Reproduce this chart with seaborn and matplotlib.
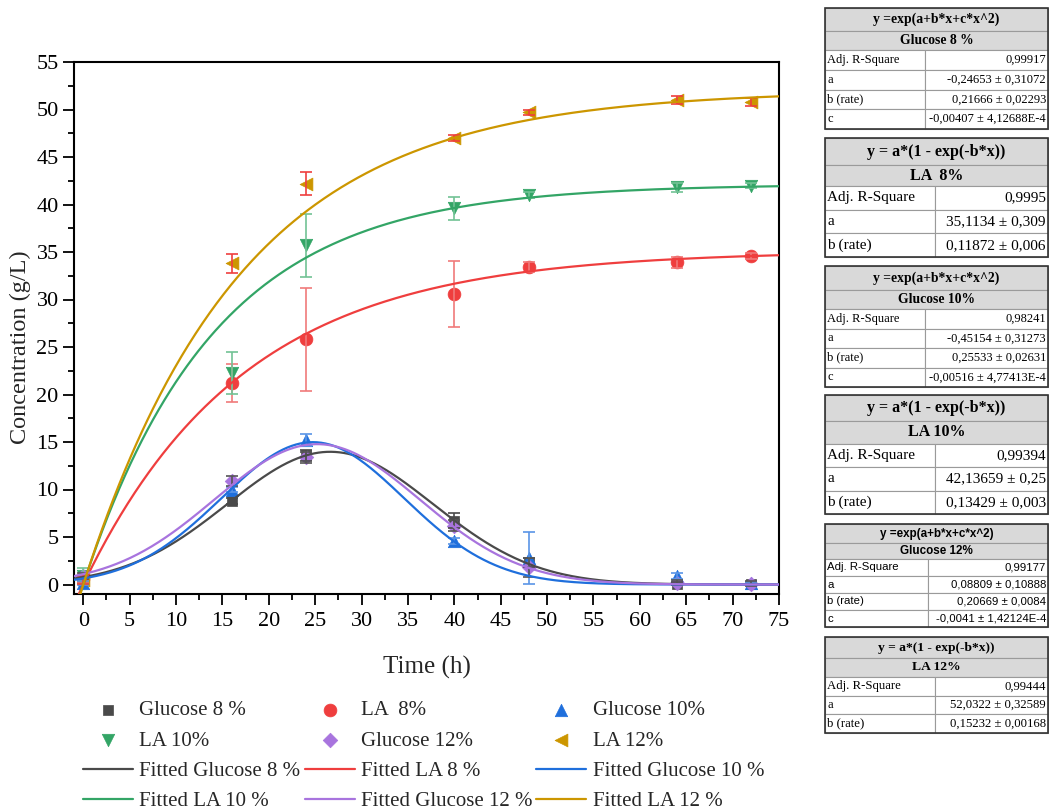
import numpy as np
import pandas as pd
import matplotlib
matplotlib.use("Agg")
import matplotlib.pyplot as plt
import seaborn as sns
from matplotlib.patches import Rectangle
from matplotlib.ticker import MultipleLocator

# ---------------- data ----------------
time_h = [0, 16, 24, 40, 48, 64, 72]

glc8 = [0.5, 8.8, 13.6, 6.7, 2.3, 0.1, 0.1]
glc8_err = [0.3, 0.3, 0.6, 0.8, 0.5, 0.2, 0.2]
la8 = [0.6, 21.2, 25.8, 30.6, 33.4, 33.9, 34.6]
la8_err = [0.4, 2.0, 5.4, 3.5, 0.5, 0.6, 0.3]
glc10 = [0.2, 10.0, 15.2, 4.6, 2.8, 0.9, 0.2]
glc10_err = [0.2, 0.3, 0.6, 0.3, 2.7, 0.3, 0.1]
la10 = [0.9, 22.3, 35.7, 39.6, 41.0, 41.8, 42.0]
la10_err = [0.8, 2.2, 3.3, 1.2, 0.3, 0.5, 0.3]
glc12 = [0.9, 10.9, 13.4, 6.2, 1.8, 0.2, 0.1]
glc12_err = [0.3, 0.5, 0.6, 0.6, 1.0, 0.3, 0.3]
la12 = [0.5, 33.8, 42.2, 47.0, 49.7, 51.0, 50.8]
la12_err = [0.4, 1.0, 1.2, 0.3, 0.3, 0.4, 0.4]

# fitted model parameters
glc_params = {  # y = exp(a + b*x + c*x^2)
    "Glucose 8 %": (-0.24653, 0.21666, -0.00407),
    "Glucose 10 %": (-0.45154, 0.25533, -0.00516),
    "Glucose 12 %": (0.08809, 0.20669, -0.0041),
}
la_params = {  # y = a*(1 - exp(-b*x)) (as drawn)
    "LA 8 %": (35.1134, 0.058),
    "LA 10 %": (42.13659, 0.0706),
    "LA 12 %": (52.0322, 0.0585),
}

x_ticks = list(range(0, 76, 5))
y_ticks = list(range(0, 56, 5))

# table contents
tables = [
    ("y =exp(a+b*x+c*x^2)", "Glucose 8 %",
     [("Adj. R-Square", "0,99917"), ("a", "-0,24653 ± 0,31072"),
      ("b (rate)", "0,21666 ± 0,02293"), ("c", "-0,00407 ± 4,12688E-4")]),
    ("y = a*(1 - exp(-b*x))", "LA  8%",
     [("Adj. R-Square", "0,9995"), ("a", "35,1134 ± 0,309"),
      ("b (rate)", "0,11872 ± 0,006")]),
    ("y =exp(a+b*x+c*x^2)", "Glucose 10%",
     [("Adj. R-Square", "0,98241"), ("a", "-0,45154 ± 0,31273"),
      ("b (rate)", "0,25533 ± 0,02631"), ("c", "-0,00516 ± 4,77413E-4")]),
    ("y = a*(1 - exp(-b*x))", "LA 10%",
     [("Adj. R-Square", "0,99394"), ("a", "42,13659 ± 0,25"),
      ("b (rate)", "0,13429 ± 0,003")]),
    ("y =exp(a+b*x+c*x^2)", "Glucose 12%",
     [("Adj. R-Square", "0,99177"), ("a", "0,08809 ± 0,10888"),
      ("b (rate)", "0,20669 ± 0,0084"), ("c", "-0,0041 ± 1,42124E-4")]),
    ("y = a*(1 - exp(-b*x))", "LA 12%",
     [("Adj. R-Square", "0,99444"), ("a", "52,0322 ± 0,32589"),
      ("b (rate)", "0,15232 ± 0,00168")]),
]

# ---------------- style ----------------
sns.set_theme(style="ticks")
plt.rcParams['font.family'] = ['Liberation Serif', 'DejaVu Serif']

W, H = 1049, 811
fig = plt.figure(figsize=(W / 100, H / 100), dpi=100)
ax = fig.add_axes([74 / W, 1 - 594 / H, 705 / W, 532 / H])

series = [
    ("Glucose 8 %", glc8, glc8_err, "s", "#4a4a4a", "#4a4a4a", 60),
    ("LA  8%", la8, la8_err, "o", "#ef3e3e", "#f07a7a", 85),
    ("Glucose 10%", glc10, glc10_err, "^", "#1f6fdc", "#5a95e6", 80),
    ("LA 10%", la10, la10_err, "v", "#33a566", "#72c295", 80),
    ("Glucose 12%", glc12, glc12_err, "D", "#a874de", "#555555", 55),
    ("LA 12%", la12, la12_err, "<", "#cc9600", "#ef3e3e", 85),
]

for name, vals, err, mk, col, ecol, s in series:
    sns.scatterplot(x=time_h, y=vals, marker=mk, color=col, s=s,
                    edgecolor=col, linewidth=0.5, ax=ax, label=name, zorder=3)
    ax.errorbar(time_h, vals, yerr=err, fmt="none", ecolor=ecol,
                elinewidth=1.2, capsize=4, capthick=1.2, zorder=4)

xg = np.linspace(-1, 75, 500)
line_specs = [
    ("Fitted Glucose 8 %", "glc", "Glucose 8 %", "#4a4a4a"),
    ("Fitted LA 8 %", "la", "LA 8 %", "#ef3e3e"),
    ("Fitted Glucose 10 %", "glc", "Glucose 10 %", "#1f6fdc"),
    ("Fitted LA 10 %", "la", "LA 10 %", "#33a566"),
    ("Fitted Glucose 12 %", "glc", "Glucose 12 %", "#a874de"),
    ("Fitted LA 12 %", "la", "LA 12 %", "#cc9600"),
]
for lab, kind, key, col in line_specs:
    if kind == "glc":
        a, b, c = glc_params[key]
        yg = np.exp(a + b * xg + c * xg ** 2)
    else:
        a, b = la_params[key]
        yg = a * (1 - np.exp(-b * xg))
    df = pd.DataFrame({"x": xg, "y": yg})
    sns.lineplot(data=df, x="x", y="y", color=col, lw=1.6, ax=ax,
                 label=lab, estimator=None, sort=False, zorder=5)

ax.set_xlim(-1, 75)
ax.set_ylim(-1, 55)
ax.set_xticks(x_ticks)
ax.set_yticks(y_ticks)
ax.xaxis.set_minor_locator(MultipleLocator(2.5))
ax.yaxis.set_minor_locator(MultipleLocator(2.5))
ax.tick_params(axis="both", which="major", direction="out", length=8,
               width=1.3, labelsize=16, color="black", labelcolor="black")
ax.tick_params(axis="both", which="minor", direction="out", length=4.5,
               width=1.3, color="black")
ax.tick_params(axis="x", pad=5)
ax.tick_params(axis="y", pad=3)
for sp in ax.spines.values():
    sp.set_visible(True)
    sp.set_linewidth(1.5)
    sp.set_color("black")
ax.set_xlabel("Time (h)", fontsize=18, labelpad=18)
ax.set_ylabel("Concentration (g/L)", fontsize=17.5)
ax.yaxis.set_label_coords(-0.061, 0.464)

# legend, ordered row-wise like the original
handles, labels = ax.get_legend_handles_labels()
hmap = dict(zip(labels, handles))
order = ["Glucose 8 %", "LA 10%", "Fitted Glucose 8 %", "Fitted LA 10 %",
         "LA  8%", "Glucose 12%", "Fitted LA 8 %", "Fitted Glucose 12 %",
         "Glucose 10%", "LA 12%", "Fitted Glucose 10 %", "Fitted LA 12 %"]
if ax.legend_:
    ax.legend_.remove()
fig.legend([hmap[l] for l in order], order, ncol=3, loc="upper left",
           bbox_to_anchor=(83 / W, 1 - 700.5 / H), frameon=False, fontsize=15,
           handlelength=2.4, handletextpad=0.3, columnspacing=0.2,
           labelspacing=0.52, borderaxespad=0, borderpad=0)

# ---------------- tables ----------------
tax = fig.add_axes([0, 0, 1, 1], zorder=10)
tax.set_xlim(0, W)
tax.set_ylim(H, 0)
tax.axis("off")

geo = [
    # top, header heights, body height, split, fs body, fs head, family
    (8, (23, 19), 19.75, 925, 9.0, 9.8, "Liberation Serif"),
    (138, (27, 21), 23.7, 935, 11, 11.5, "Liberation Serif"),
    (266, (24, 19), 19.5, 925, 9.0, 9.8, "Liberation Serif"),
    (395, (26, 23), 23.3, 935, 11, 11.5, "Liberation Serif"),
    (524, (19, 16), 17, 928, 8.2, 8.4, "Liberation Sans"),
    (637, (21, 19), 18.5, 935, 9.2, 9.7, "Liberation Serif"),
]
L, R = 825, 1048
for (h1, h2, body), (top, hh, bh, split, fsb, fsh, fam) in zip(tables, geo):
    y = top
    for htxt, hgt in zip((h1, h2), hh):
        tax.add_patch(Rectangle((L, y), R - L, hgt, facecolor="#d9d9d9",
                                edgecolor="#9a9a9a", lw=0.8))
        tax.text((L + R) / 2, y + hgt / 2, htxt, ha="center", va="center",
                 fontsize=fsh, fontweight="bold", family=fam, color="black")
        y += hgt
    for lab, val in body:
        tax.add_patch(Rectangle((L, y), split - L, bh, facecolor="white",
                                edgecolor="#9a9a9a", lw=0.8))
        tax.add_patch(Rectangle((split, y), R - split, bh, facecolor="white",
                                edgecolor="#9a9a9a", lw=0.8))
        tax.text(L + 2, y + bh / 2, lab, ha="left", va="center",
                 fontsize=fsb, family=fam, color="black")
        tax.text(R - 2, y + bh / 2, val, ha="right", va="center",
                 fontsize=fsb, family=fam, color="black")
        y += bh
    tax.add_patch(Rectangle((L, top), R - L, y - top, facecolor="none",
                            edgecolor="#333333", lw=1.2))

fig.savefig("out.png", dpi=100)
